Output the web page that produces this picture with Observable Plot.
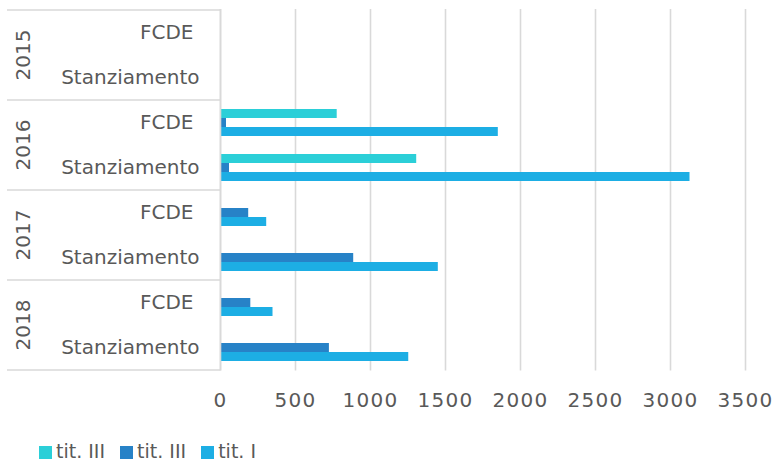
<!DOCTYPE html>
<html>
<head>
<meta charset="utf-8">
<script src="https://cdn.jsdelivr.net/npm/d3@7"></script>
<script src="https://cdn.jsdelivr.net/npm/@observablehq/plot@0.6"></script>
<style>
  html, body { margin: 0; padding: 0; background: #fff; overflow: hidden; }
  #wrap { position: relative; width: 780px; height: 464px; }
  #legend { position: absolute; left: 39px; top: 443px; display: flex; align-items: center;
            font-family: "DejaVu Sans"; font-size: 19px; line-height: 16px; color: #595959; }
  #legend .item { display: flex; align-items: center; margin-right: 15px; }
  #legend .sw { width: 13px; height: 13px; margin-right: 4px; margin-top: 2px; }
</style>
</head>
<body>
<div id="wrap"><div id="chart"></div><div id="legend"></div></div>
<script>
const years = ["2015", "2016", "2017", "2018"];
const categories = ["FCDE", "Stanziamento"];
const seriesLabels = ["tit. III", "tit. III", "tit. I"];
const seriesKeys = ["a", "b", "c"];
const seriesColors = ["#2bcfd8", "#2782c7", "#1daee4"];
// rows: 2015 FCDE, 2015 Stanz, 2016 FCDE, 2016 Stanz, 2017 FCDE, 2017 Stanz, 2018 FCDE, 2018 Stanz
const titIIIa = [null, null, 778, 1308, null, null, null, null];
const titIIIb = [null, null, 40, 60, 188, 888, 202, 726];
const titI    = [null, null, 1852, 3130, 308, 1452, 350, 1255];
const xTicks = [0, 500, 1000, 1500, 2000, 2500, 3000, 3500];

const seriesValues = [titIIIa, titIIIb, titI];
const slots = ["p0", "a", "b", "c", "p1"];
const yDomain = years.flatMap(y => categories.flatMap(c => slots.map(s => `${y}|${c}|${s}`)));

const data = [];
seriesValues.forEach((vals, k) => {
  vals.forEach((v, r) => {
    if (v == null) return;
    const y = years[Math.floor(r / 2)], c = categories[r % 2];
    data.push({key: `${y}|${c}|${seriesKeys[k]}`, value: v, series: seriesKeys[k]});
  });
});
const catLabels = years.flatMap(y => categories.map(c => ({key: `${y}|${c}|b`, cat: c})));

const plot = Plot.plot({
  width: 780,
  height: 430,
  marginLeft: 220,
  marginRight: 35,
  marginTop: 9,
  marginBottom: 59.5,
  style: {fontFamily: "DejaVu Sans", fontSize: "20px", color: "#595959", background: "white", overflow: "visible"},
  x: {domain: [0, 3500], axis: null},
  y: {domain: yDomain, padding: 0, axis: null},
  color: {type: "ordinal", domain: seriesKeys, range: seriesColors},
  marks: [
    Plot.ruleX(xTicks, {stroke: "#d9d9d9", strokeWidth: 1.6}),
    Plot.barX(data, {x: "value", y: "key", fill: "series"}),
    Plot.ruleX([0], {stroke: "#d9d9d9", strokeWidth: 1.6}),
    Plot.axisX({ticks: xTicks, tickSize: 0, tickPadding: 22, fontSize: 20, fill: "#595959", label: null, tickFormat: d => String(d)}),
    Plot.text(catLabels.filter(d => d.cat === "FCDE"), {y: "key", text: "cat", frameAnchor: "left", textAnchor: "end", dx: -27, fill: "#595959", fontSize: 20}),
    Plot.text(catLabels.filter(d => d.cat === "Stanziamento"), {y: "key", text: "cat", frameAnchor: "left", textAnchor: "end", dx: -21, fill: "#595959", fontSize: 20})
  ]
});
document.getElementById("chart").appendChild(plot);

// separators and year labels using the plot's own y scale
const ys = plot.scale("y");
const bw = ys.bandwidth;
const svg = d3.select(plot);
svg.selectAll('g[aria-label="x-axis tick label"] text').attr("letter-spacing", "1.3px");
const bounds = years.map(y => ys.apply(`${y}|FCDE|p0`));
bounds.push(ys.apply(`${years[years.length - 1]}|Stanziamento|p1`) + bw);
const g = svg.append("g").attr("aria-label", "year separators");
bounds.forEach(b => {
  g.append("line").attr("x1", 7).attr("x2", 220).attr("y1", b).attr("y2", b)
    .attr("stroke", "#d9d9d9").attr("stroke-width", 1.6);
});
years.forEach(y => {
  const cy = ys.apply(`${y}|Stanziamento|p0`);
  g.append("text").attr("transform", `translate(23,${cy}) rotate(-90)`)
    .attr("text-anchor", "middle").attr("dominant-baseline", "central")
    .attr("fill", "#595959").attr("font-size", 20).attr("font-family", "DejaVu Sans")
    .text(y);
});

// legend
const legend = d3.select("#legend");
seriesLabels.forEach((lab, k) => {
  const it = legend.append("div").attr("class", "item");
  it.append("div").attr("class", "sw").style("background", seriesColors[k]);
  it.append("span").text(lab);
});
</script>
</body>
</html>
